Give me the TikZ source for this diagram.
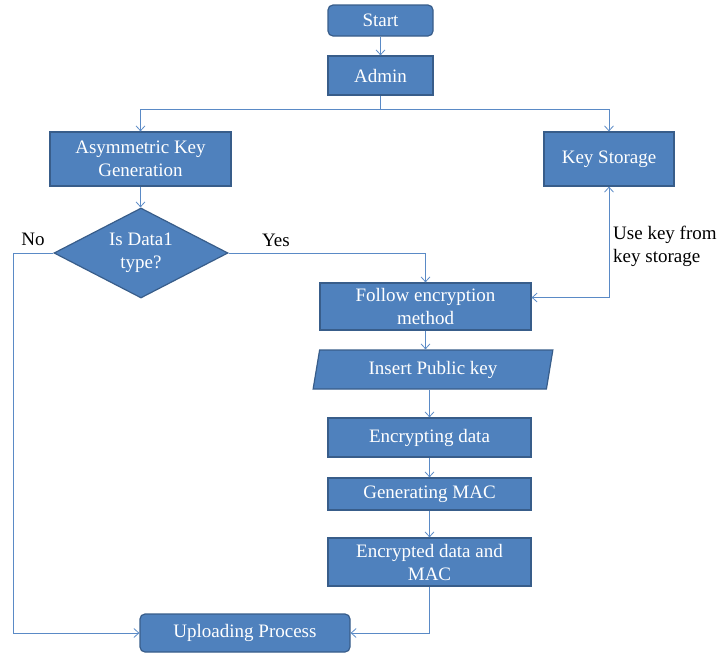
\documentclass[tikz,border=0pt]{standalone}
\usepackage{fontspec}
\setmainfont{Liberation Serif}
\usetikzlibrary{shapes.geometric,arrows.meta}
\definecolor{boxfill}{HTML}{4F81BD}
\definecolor{boxedge}{HTML}{385D8A}
\definecolor{flowblue}{HTML}{5A8AC6}

\begin{document}
\begin{tikzpicture}[x=1pt,y=-1pt]
		\tikzstyle{every node}+=[inner sep=0pt, font=\fontsize{19}{23}\selectfont]
		\tikzstyle{blockbox}=[draw=boxedge, line width=1.2pt, fill=boxfill, text=white, align=center]
		\tikzstyle{roundbox}=[blockbox, rounded corners=5pt]
		\tikzstyle{decisionbox}=[blockbox, diamond, aspect=1.9, minimum width=174pt, minimum height=90pt]
		\tikzstyle{iobox}=[blockbox, trapezium, trapezium left angle=78, trapezium right angle=102, trapezium stretches=true, minimum width=240pt, minimum height=39pt]
		\tikzstyle{flowline}=[draw=flowblue, line width=0.8pt, -{Straight Barb[length=5pt,width=9pt]}]
		\useasboundingbox (0,0) rectangle (722,653);
		\node [roundbox, minimum width=105pt, minimum height=31pt] (start) at (380.5,20.5) {Start};
		\node [blockbox, minimum width=105pt, minimum height=39pt] (admin) at (380.5,75.5) {Admin};
		\coordinate (split) at (380.5,109);
		\node [blockbox, minimum width=181pt, minimum height=54pt] (asym) at (140.5,159) {Asymmetric Key\\Generation};
		\node [blockbox, minimum width=130pt, minimum height=54pt] (keys) at (609,159) {Key Storage};
		\node [decisionbox] (dec) at (141,253) {Is Data1\\type?};
		\node (no) at (33,239) {No};
		\node (yes) at (276,240) {Yes};
		\node [align=left, anchor=west] (usekey) at (613,246) {Use key from\\key storage};
		\node [blockbox, minimum width=211pt, minimum height=47pt] (follow) at (425.5,306.5) {Follow encryption\\method};
		\node [iobox] (insert) at (433,369.5) {Insert Public key};
		\node [blockbox, minimum width=203pt, minimum height=39pt] (enc) at (429.5,437.5) {Encrypting data};
		\node [blockbox, minimum width=203pt, minimum height=32pt] (gen) at (429.5,494) {Generating MAC};
		\node [blockbox, minimum width=203pt, minimum height=48pt] (encmac) at (429.5,562) {Encrypted data and\\MAC};
		\node [roundbox, minimum width=210pt, minimum height=38pt] (upload) at (245,633) {Uploading Process};
		\draw [flowline] (start) -- (admin);
		\draw [flowline] (admin) -- (split) -| (asym);
		\draw [flowline] (split) -| (keys);
		\draw [flowline] (asym) -- (asym |- dec.north);
		\draw [flowline] (dec.east) -| (follow.north);
		\draw [flowline] (dec.west) -- ++(-40,0) |- (upload.west);
		\draw [flowline, {Straight Barb[length=5pt,width=9pt]}-{Straight Barb[length=5pt,width=9pt]}] ([yshift=9pt]follow.east) -| (keys.south);
		\draw [flowline] (follow.south) -- (follow.south |- insert.north);
		\draw [flowline] (enc.north |- insert.south) -- (enc.north);
		\draw [flowline] (enc) -- (gen);
		\draw [flowline] (gen) -- (encmac);
		\draw [flowline] (encmac.south) |- (upload.east);
	\end{tikzpicture}
\end{document}
